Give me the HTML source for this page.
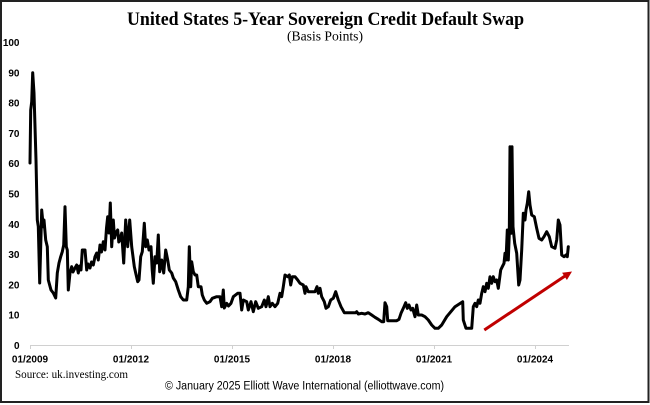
<!DOCTYPE html>
<html>
<head>
<meta charset="utf-8">
<style>
html,body{margin:0;padding:0;background:#fff;}
svg{display:block;}
</style>
</head>
<body>
<svg width="650" height="405" viewBox="0 0 650 405" xmlns="http://www.w3.org/2000/svg">
<rect x="0" y="0" width="650" height="405" fill="#fff"/>
<rect x="1" y="1" width="647.5" height="401" fill="none" stroke="#222" stroke-width="2"/>

<text x="127" y="25" font-family="Liberation Serif, serif" font-weight="bold" font-size="19" textLength="397" lengthAdjust="spacingAndGlyphs" fill="#000">United States 5-Year Sovereign Credit Default Swap</text>
<text x="287" y="40.5" font-family="Liberation Serif, serif" font-size="13.5" textLength="76" lengthAdjust="spacingAndGlyphs" fill="#000">(Basis Points)</text>

<g font-family="Liberation Sans, Arial, sans-serif" font-weight="bold" font-size="10" fill="#000" text-anchor="end">
<text x="19.5" y="46">100</text>
<text x="19.5" y="76.3">90</text>
<text x="19.5" y="106.6">80</text>
<text x="19.5" y="136.9">70</text>
<text x="19.5" y="167.2">60</text>
<text x="19.5" y="197.5">50</text>
<text x="19.5" y="227.8">40</text>
<text x="19.5" y="258.1">30</text>
<text x="19.5" y="288.4">20</text>
<text x="19.5" y="318.7">10</text>
<text x="19.5" y="349">0</text>
</g>

<line x1="30" y1="345.5" x2="569" y2="345.5" stroke="#d0d0d0" stroke-width="1"/>
<g stroke="#d0d0d0" stroke-width="1">
<line x1="30.5" y1="345.5" x2="30.5" y2="349"/>
<line x1="131.5" y1="345.5" x2="131.5" y2="349"/>
<line x1="232.5" y1="345.5" x2="232.5" y2="349"/>
<line x1="333.5" y1="345.5" x2="333.5" y2="349"/>
<line x1="434.5" y1="345.5" x2="434.5" y2="349"/>
<line x1="535.5" y1="345.5" x2="535.5" y2="349"/>
</g>

<g font-family="Liberation Sans, Arial, sans-serif" font-weight="bold" font-size="10" fill="#000" text-anchor="middle">
<text x="30" y="362.6">01/2009</text>
<text x="131" y="362.6">01/2012</text>
<text x="232" y="362.6">01/2015</text>
<text x="333" y="362.6">01/2018</text>
<text x="434" y="362.6">01/2021</text>
<text x="535" y="362.6">01/2024</text>
</g>

<polyline fill="none" stroke="#000" stroke-width="3" stroke-linejoin="round" stroke-linecap="round" points="
30,163 30.7,110 31.7,101.7 32.7,72.7 34,93 36,160 37.3,220 38.3,226.7 39.7,283 41.7,210 43.3,226.7 44,220 45.7,240 47.3,246.7 48.3,280 51,290 53.3,293 55.7,298 57.3,273 59,263 60.7,256.7 62.3,251.7 63.7,245 65,206.7 66.3,246.7 67.3,250 68.3,290 70,273 71.7,266.7 73,272 75,268 76.7,265 78.3,273 79.5,266 81,270 82.3,250 85,250 86.7,270 88,264 90,268 91.5,262 93.3,265 95,256.7 96.7,253 98.3,260 100,245 101.5,252 103.3,241.7 105,250 106.5,228 107.7,216.7 109,233 110.3,203 111.7,246.7 113.3,220 114.5,238 115.7,233 117.7,230 118.8,242 120,240 121.7,233 123.7,263 125.7,220 127.7,246.7 129.7,220 131.7,246.7 134.3,266.7
135.7,273 137.7,281.7 139,280 140.7,256.7 142.3,251.7 144.3,223.3 145.7,246.7 147.3,240 149,250 151,246.7 152.2,270 153.3,283.3 155,256.7 156.7,263 158.3,235 159.7,271.7 161.7,260 163.7,273 165.7,250 167.7,260 169.3,270 171.7,273 173.3,278 175.7,281.7 178.3,290 180.7,296.7 183.3,300 186.7,300 188.3,286.7 189.3,246.7 190.7,286.7 191.7,261.7 193.3,271.7 195,275 196.7,275 198.3,286.7 201,286.7 202.3,295 204.3,300 206.7,303.3 210,301.7 212.3,298.3 216.7,296.7 220,296.7 221.7,306.7 223.3,290 224.3,308 226.7,303.3 228.5,306 231,303.3 233.3,296.7
237.7,293.3 240,293.3 241.7,310 243.3,300 246.7,301.7 248.3,310 251,301.7 253.3,311.7 255.7,301.7 258.3,308.3 261.7,306.7 264.3,300 266,306.7 268.3,296.7 270,306.7 272.3,303.3 275,306.7 277.7,303.3 280,293.3 281.7,296.7 283.3,286.7 285,275 287.7,276.7 289.3,275 290.7,285 292.3,276.7 295,276.7 297.7,280 300,283.3 303.3,285 305,293.3 306,286.7 308.3,291.7 311.7,291.7 315,291.7 317,286.7 318.3,293.3 320,288.3 321.7,296.7 324.3,301.7 326,308.3 328.3,306.7 330.7,300 333.3,298.3 335.7,291.7 338.3,300 341,306.7 344.3,312.7 350,312.7 355.7,312.7 356.7,311.7 358.3,314 361.7,313.3 365,314 368.3,312.7 371.7,315 375,317.3 378.3,319.3 381.7,321.7 383.7,321.7 385,302.7 386.7,306.7 387.7,320.7 391.7,320.7 396.7,320.7 399,319.3 401,313.3 403.3,308.3 405.7,302.7 407.3,308.3 409,305 411,310 412.7,308.3 415,316.7 416.7,305 418.3,315 421.7,315 425,316.7 428.3,320 431.7,325 435,328.3 438.3,328.3 441.7,325
446.7,316.7 455,306.7 462.7,301.7 463.3,320 466,328.3 471.7,328.3 473.3,306.7 475,303.3 476.7,306.7 478.3,300 480,303.3 481.7,293.3 483.3,286.7 485,291.7 486.7,283.3 488.3,288.3 490,276.7 491.7,283.3 493.3,276.7 495,281.7 496.7,280 498.3,288.3 500.7,270 502.3,266.7 504,263.3 505,253.3 506,260 507.3,230 508.3,260 509.3,233.3 510,146.7 511,233.3 512,146.7 513,226.7 514.7,243.3 516.7,253.3 518.7,285 520,280 521.7,250 523.3,213.3 525,220 526,210 527.3,203.3 528.7,191.7 530,205 531.7,215 534.3,216.7 536.7,228.3 539,238.3 541.7,240 544,236.7 546.7,231.7 549.3,236.7 551.7,246.7 555,248.3 556.7,240 558.3,220 560,225 561.7,255 564,256.7 566,255 567.3,256.7 568.3,246.7"/>

<line x1="484.3" y1="330" x2="565" y2="276" stroke="#c00000" stroke-width="3"/>
<polygon points="572,271.5 566.9,280 562.1,272.8" fill="#c00000"/>

<text x="15" y="378" font-family="Liberation Serif, serif" font-size="11.5" textLength="113" lengthAdjust="spacingAndGlyphs" fill="#000">Source: uk.investing.com</text>
<text x="165" y="389.5" font-family="Liberation Sans, Arial, sans-serif" font-size="11.5" textLength="279" lengthAdjust="spacingAndGlyphs" fill="#000">© January 2025 Elliott Wave International (elliottwave.com)</text>
</svg>
</body>
</html>
